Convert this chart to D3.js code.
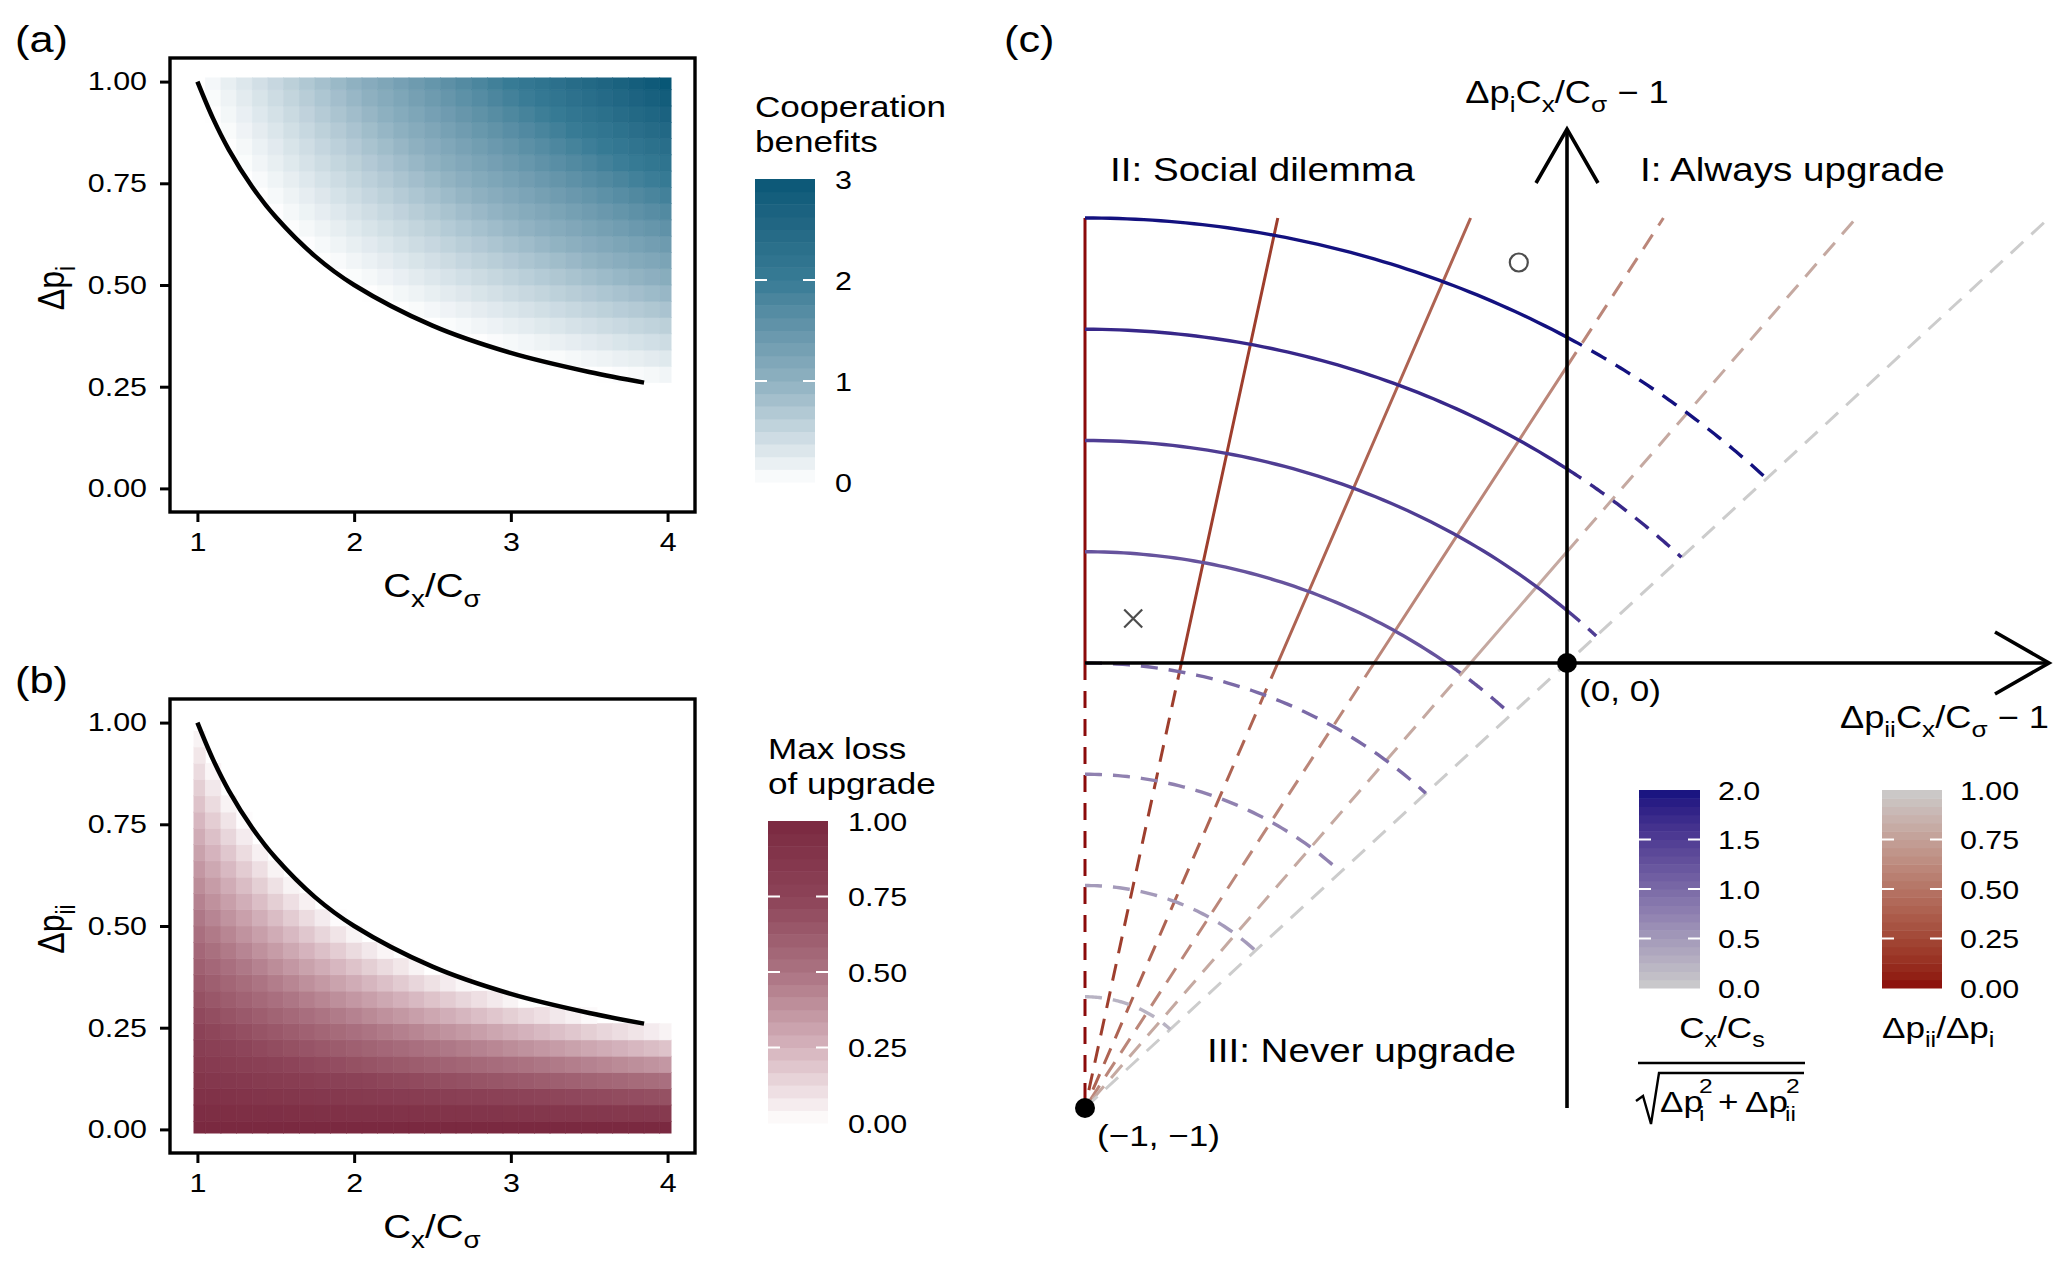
<!DOCTYPE html>
<html>
<head>
<meta charset="utf-8">
<script src="https://cdn.jsdelivr.net/npm/d3@7"></script>
<style>
  html, body { margin: 0; padding: 0; background: #fff; overflow: hidden; }
  text { font-family: 'Liberation Sans', Arial, Helvetica, sans-serif; white-space: pre; }
</style>
</head>
<body>
<svg id="chart" width="2067" height="1268"></svg>
<script>
// Heat map grid (columns: Cx/Cσ, rows: Δp)
const ratioGrid = [1.0, 1.1, 1.2, 1.3, 1.4, 1.5, 1.6, 1.7, 1.8, 1.9, 2.0, 2.1, 2.2, 2.3, 2.4, 2.5,
                   2.6, 2.7, 2.8, 2.9, 3.0, 3.1, 3.2, 3.3, 3.4, 3.5, 3.6, 3.7, 3.8, 3.9, 4.0];
const dpGrid = [0, 0.04, 0.08, 0.12, 0.16, 0.2, 0.24, 0.28, 0.32, 0.36, 0.4, 0.44, 0.48,
                0.52, 0.56, 0.6, 0.64, 0.68, 0.72, 0.76, 0.8, 0.84, 0.88, 0.92, 0.96, 1.0];

// Tile values: positive = cooperation benefit (a),
// negative = loss of upgrade (b)
const netPayoff = [
  [-1,-1,-1,-1,-1,-1,-1,-1,-1,-1,-1,-1,-1,-1,-1,-1,-1,-1,-1,-1,-1,-1,-1,-1,-1,-1,-1,-1,-1,-1,-1],
  [-0.96,-0.956,-0.952,-0.948,-0.944,-0.94,-0.936,-0.932,-0.928,-0.924,-0.92,-0.916,-0.912,-0.908,-0.904,-0.9,-0.896,-0.892,-0.888,-0.884,-0.88,-0.876,-0.872,-0.868,-0.864,-0.86,-0.856,-0.852,-0.848,-0.844,-0.84],
  [-0.92,-0.912,-0.904,-0.896,-0.888,-0.88,-0.872,-0.864,-0.856,-0.848,-0.84,-0.832,-0.824,-0.816,-0.808,-0.8,-0.792,-0.784,-0.776,-0.768,-0.76,-0.752,-0.744,-0.736,-0.728,-0.72,-0.712,-0.704,-0.696,-0.688,-0.68],
  [-0.88,-0.868,-0.856,-0.844,-0.832,-0.82,-0.808,-0.796,-0.784,-0.772,-0.76,-0.748,-0.736,-0.724,-0.712,-0.7,-0.688,-0.676,-0.664,-0.652,-0.64,-0.628,-0.616,-0.604,-0.592,-0.58,-0.568,-0.556,-0.544,-0.532,-0.52],
  [-0.84,-0.824,-0.808,-0.792,-0.776,-0.76,-0.744,-0.728,-0.712,-0.696,-0.68,-0.664,-0.648,-0.632,-0.616,-0.6,-0.584,-0.568,-0.552,-0.536,-0.52,-0.504,-0.488,-0.472,-0.456,-0.44,-0.424,-0.408,-0.392,-0.376,-0.36],
  [-0.8,-0.78,-0.76,-0.74,-0.72,-0.7,-0.68,-0.66,-0.64,-0.62,-0.6,-0.58,-0.56,-0.54,-0.52,-0.5,-0.48,-0.46,-0.44,-0.42,-0.4,-0.38,-0.36,-0.34,-0.32,-0.3,-0.28,-0.26,-0.24,-0.22,-0.2],
  [-0.76,-0.736,-0.712,-0.688,-0.664,-0.64,-0.616,-0.592,-0.568,-0.544,-0.52,-0.496,-0.472,-0.448,-0.424,-0.4,-0.376,-0.352,-0.328,-0.304,-0.28,-0.256,-0.232,-0.208,-0.184,-0.16,-0.136,-0.112,-0.088,-0.064,-0.04],
  [-0.72,-0.692,-0.664,-0.636,-0.608,-0.58,-0.552,-0.524,-0.496,-0.468,-0.44,-0.412,-0.384,-0.356,-0.328,-0.3,-0.272,-0.244,-0.216,-0.188,-0.16,-0.132,-0.104,-0.076,-0.048,-0.02,0.008,0.036,0.064,0.092,0.12],
  [-0.68,-0.648,-0.616,-0.584,-0.552,-0.52,-0.488,-0.456,-0.424,-0.392,-0.36,-0.328,-0.296,-0.264,-0.232,-0.2,-0.168,-0.136,-0.104,-0.072,-0.04,-0.008,0.024,0.056,0.088,0.12,0.152,0.184,0.216,0.248,0.28],
  [-0.64,-0.604,-0.568,-0.532,-0.496,-0.46,-0.424,-0.388,-0.352,-0.316,-0.28,-0.244,-0.208,-0.172,-0.136,-0.1,-0.064,-0.028,0.008,0.044,0.08,0.116,0.152,0.188,0.224,0.26,0.296,0.332,0.368,0.404,0.44],
  [-0.6,-0.56,-0.52,-0.48,-0.44,-0.4,-0.36,-0.32,-0.28,-0.24,-0.2,-0.16,-0.12,-0.08,-0.04,0,0.04,0.08,0.12,0.16,0.2,0.24,0.28,0.32,0.36,0.4,0.44,0.48,0.52,0.56,0.6],
  [-0.56,-0.516,-0.472,-0.428,-0.384,-0.34,-0.296,-0.252,-0.208,-0.164,-0.12,-0.076,-0.032,0.012,0.056,0.1,0.144,0.188,0.232,0.276,0.32,0.364,0.408,0.452,0.496,0.54,0.584,0.628,0.672,0.716,0.76],
  [-0.52,-0.472,-0.424,-0.376,-0.328,-0.28,-0.232,-0.184,-0.136,-0.088,-0.04,0.008,0.056,0.104,0.152,0.2,0.248,0.296,0.344,0.392,0.44,0.488,0.536,0.584,0.632,0.68,0.728,0.776,0.824,0.872,0.92],
  [-0.48,-0.428,-0.376,-0.324,-0.272,-0.22,-0.168,-0.116,-0.064,-0.012,0.04,0.092,0.144,0.196,0.248,0.3,0.352,0.404,0.456,0.508,0.56,0.612,0.664,0.716,0.768,0.82,0.872,0.924,0.976,1.028,1.08],
  [-0.44,-0.384,-0.328,-0.272,-0.216,-0.16,-0.104,-0.048,0.008,0.064,0.12,0.176,0.232,0.288,0.344,0.4,0.456,0.512,0.568,0.624,0.68,0.736,0.792,0.848,0.904,0.96,1.016,1.072,1.128,1.184,1.24],
  [-0.4,-0.34,-0.28,-0.22,-0.16,-0.1,-0.04,0.02,0.08,0.14,0.2,0.26,0.32,0.38,0.44,0.5,0.56,0.62,0.68,0.74,0.8,0.86,0.92,0.98,1.04,1.1,1.16,1.22,1.28,1.34,1.4],
  [-0.36,-0.296,-0.232,-0.168,-0.104,-0.04,0.024,0.088,0.152,0.216,0.28,0.344,0.408,0.472,0.536,0.6,0.664,0.728,0.792,0.856,0.92,0.984,1.048,1.112,1.176,1.24,1.304,1.368,1.432,1.496,1.56],
  [-0.32,-0.252,-0.184,-0.116,-0.048,0.02,0.088,0.156,0.224,0.292,0.36,0.428,0.496,0.564,0.632,0.7,0.768,0.836,0.904,0.972,1.04,1.108,1.176,1.244,1.312,1.38,1.448,1.516,1.584,1.652,1.72],
  [-0.28,-0.208,-0.136,-0.064,0.008,0.08,0.152,0.224,0.296,0.368,0.44,0.512,0.584,0.656,0.728,0.8,0.872,0.944,1.016,1.088,1.16,1.232,1.304,1.376,1.448,1.52,1.592,1.664,1.736,1.808,1.88],
  [-0.24,-0.164,-0.088,-0.012,0.064,0.14,0.216,0.292,0.368,0.444,0.52,0.596,0.672,0.748,0.824,0.9,0.976,1.052,1.128,1.204,1.28,1.356,1.432,1.508,1.584,1.66,1.736,1.812,1.888,1.964,2.04],
  [-0.2,-0.12,-0.04,0.04,0.12,0.2,0.28,0.36,0.44,0.52,0.6,0.68,0.76,0.84,0.92,1,1.08,1.16,1.24,1.32,1.4,1.48,1.56,1.64,1.72,1.8,1.88,1.96,2.04,2.12,2.2],
  [-0.16,-0.076,0.008,0.092,0.176,0.26,0.344,0.428,0.512,0.596,0.68,0.764,0.848,0.932,1.016,1.1,1.184,1.268,1.352,1.436,1.52,1.604,1.688,1.772,1.856,1.94,2.024,2.108,2.192,2.276,2.36],
  [-0.12,-0.032,0.056,0.144,0.232,0.32,0.408,0.496,0.584,0.672,0.76,0.848,0.936,1.024,1.112,1.2,1.288,1.376,1.464,1.552,1.64,1.728,1.816,1.904,1.992,2.08,2.168,2.256,2.344,2.432,2.52],
  [-0.08,0.012,0.104,0.196,0.288,0.38,0.472,0.564,0.656,0.748,0.84,0.932,1.024,1.116,1.208,1.3,1.392,1.484,1.576,1.668,1.76,1.852,1.944,2.036,2.128,2.22,2.312,2.404,2.496,2.588,2.68],
  [-0.04,0.056,0.152,0.248,0.344,0.44,0.536,0.632,0.728,0.824,0.92,1.016,1.112,1.208,1.304,1.4,1.496,1.592,1.688,1.784,1.88,1.976,2.072,2.168,2.264,2.36,2.456,2.552,2.648,2.744,2.84],
  [0,0.1,0.2,0.3,0.4,0.5,0.6,0.7,0.8,0.9,1,1.1,1.2,1.3,1.4,1.5,1.6,1.7,1.8,1.9,2,2.1,2.2,2.3,2.4,2.5,2.6,2.7,2.8,2.9,3]
];

// Black boundary curve in (a) and (b)
const boundaryRatio = [1, 1.1, 1.2, 1.35, 1.5, 1.75, 2, 2.5, 3, 3.5, 3.85];
const boundaryDp = [1, 0.909, 0.833, 0.741, 0.667, 0.571, 0.5, 0.4, 0.333, 0.286, 0.26];

const ratioTicks = [1, 2, 3, 4];
const dpTicks = [0, 0.25, 0.5, 0.75, 1];
const benefitTicks = [0, 1, 2, 3];
const lossTicks = [0, 0.25, 0.5, 0.75, 1];

// colour stops
const benefitStops = [0, 1, 2, 3];
const benefitColors = ["#ffffff", "#8fb1c1", "#377b95", "#085776"];
const lossStops = [0, 0.25, 0.5, 0.75, 1];
const lossColors = ["#ffffff", "#d5b4bd", "#ab7382", "#8c4358", "#7a2940"];

// Panel (c)
const arcRadii = [0.25, 0.5, 0.75, 1, 1.25, 1.5, 1.75, 2];
const rayRatios = [0, 0.2, 0.4, 0.6, 0.8, 1];
const radiusTicks = [0, 0.5, 1, 1.5, 2];
const rayTicks = [0, 0.25, 0.5, 0.75, 1];
const markers = [{x: -0.1, y: 0.9, shape: "circle"}, {x: -0.9, y: 0.1, shape: "cross"}];
const keyPoints = [{x: 0, y: 0, label: "(0, 0)"}, {x: -1, y: -1, label: "(−1, −1)"}];

const SX = 1.17;   // text in the reference is drawn wider than Arial
const svg = d3.select("#chart");

// text with sub/superscripts, stretched horizontally
function richText(parent, x, y, parts, size, anchor = "start", rotate = 0) {
  const g = parent.append("g")
    .attr("transform", `translate(${x},${y}) scale(${SX},1) rotate(${rotate})`);
  const t = g.append("text").attr("font-size", size).attr("text-anchor", anchor).attr("fill", "#000");
  let shift = 0;
  parts.forEach(p => {
    const str = typeof p === "string" ? p : p[0];
    const kind = typeof p === "string" ? "" : p[1];
    const target = kind === "sub" ? size * 0.3 : kind === "sup" ? -size * 0.42 : 0;
    const ts = t.append("tspan").text(str);
    if (target - shift !== 0) ts.attr("dy", target - shift);
    if (kind) ts.attr("font-size", size * 0.72);
    shift = target;
  });
  return g;
}

function colorBar(parent, opts) {
  const s = d3.scaleLinear().domain(opts.domain).range([opts.bottom, opts.top]);
  const n = 24, [d0, d1] = opts.domain;
  const bins = d3.range(n).map(i => [d0 + (d1 - d0) * i / n, d0 + (d1 - d0) * (i + 1) / n]);
  parent.append("g").selectAll("rect").data(bins).join("rect")
    .attr("x", opts.x).attr("width", opts.w)
    .attr("y", d => s(d[1])).attr("height", d => s(d[0]) - s(d[1]) + 0.5)
    .attr("fill", d => opts.color((d[0] + d[1]) / 2));
  const inner = opts.ticks.filter(t => t > d0 && t < d1);
  parent.append("g").selectAll("path").data(inner).join("path")
    .attr("d", t => `M${opts.x},${s(t)}h12M${opts.x + opts.w - 12},${s(t)}h12`)
    .attr("stroke", "#fff").attr("stroke-width", 2);
  opts.ticks.forEach(t => richText(parent, opts.labelX, s(t) + 9.5, [opts.fmt(t)], 26));
}

// ---------- panels (a) and (b) ----------
const benefitColor = d3.scaleLinear().domain(benefitStops).range(benefitColors).interpolate(d3.interpolateLab);
const lossColor = d3.scaleLinear().domain(lossStops).range(lossColors).interpolate(d3.interpolateLab);

const heatPanels = [
  {id: "a", label: "(a)", dy: 0, yTitle: ["Δp", ["i", "sub"]], legendTitle: ["Cooperation", "benefits"],
   pick: v => v >= 0 ? v : null, color: benefitColor, domain: [0, 3], ticks: benefitTicks, fmt: d3.format("d"),
   legendX: 755, labelX: 835, barTop: 179, barBottom: 482, titleY: [117, 152]},
  {id: "b", label: "(b)", dy: 641, yTitle: ["Δp", ["ii", "sub"]], legendTitle: ["Max loss", "of upgrade"],
   pick: v => v <= 0 ? -v : null, color: lossColor, domain: [0, 1], ticks: lossTicks, fmt: d3.format(".2f"),
   legendX: 768, labelX: 848, barTop: 821, barBottom: 1123, titleY: [759, 794]}
];

heatPanels.forEach(p => {
  const g = svg.append("g");
  const x = d3.scaleLinear().domain([0.825, 4.175]).range([170, 695]);
  const y = d3.scaleLinear().domain([-0.058, 1.058]).range([512 + p.dy, 58 + p.dy]);

  svg.append("defs").append("clipPath").attr("id", "clip-" + p.id).append("rect")
    .attr("x", x(0.975)).attr("y", y(1.01))
    .attr("width", x(4.025) - x(0.975)).attr("height", y(-0.01) - y(1.01));

  const cells = [];
  dpGrid.forEach((dp, i) => ratioGrid.forEach((r, j) => {
    const v = p.pick(netPayoff[i][j]);
    if (v !== null) cells.push({r, dp, v});
  }));
  g.append("g").attr("clip-path", `url(#clip-${p.id})`)
    .selectAll("rect").data(cells).join("rect")
    .attr("x", d => x(d.r - 0.05)).attr("width", d => x(d.r + 0.05) - x(d.r - 0.05))
    .attr("y", d => y(d.dp + 0.02)).attr("height", d => y(d.dp - 0.02) - y(d.dp + 0.02))
    .attr("fill", d => p.color(d.v)).attr("stroke", d => p.color(d.v)).attr("stroke-width", 0.6);

  const line = d3.line().x(d => x(d[0])).y(d => y(d[1])).curve(d3.curveCatmullRom);
  g.append("path").datum(d3.zip(boundaryRatio, boundaryDp))
    .attr("d", line).attr("fill", "none").attr("stroke", "#000").attr("stroke-width", 4.5);

  g.append("rect").attr("x", 170).attr("y", 58 + p.dy).attr("width", 525).attr("height", 454)
    .attr("fill", "none").attr("stroke", "#000").attr("stroke-width", 3.4);

  const yAxis = g.append("g").attr("transform", "translate(170,0)")
    .call(d3.axisLeft(y).tickValues(dpTicks).tickFormat(d3.format(".2f")).tickSize(10).tickPadding(13));
  const xAxis = g.append("g").attr("transform", `translate(0,${512 + p.dy})`)
    .call(d3.axisBottom(x).tickValues(ratioTicks).tickFormat(d3.format("d")).tickSize(10).tickPadding(11));
  [yAxis, xAxis].forEach(a => {
    a.select(".domain").remove();
    a.attr("font-size", 26);
    a.selectAll(".tick line").attr("stroke", "#000").attr("stroke-width", 3);
    a.selectAll(".tick text").attr("fill", "#000").attr("transform", `scale(${SX},1)`);
  });
  yAxis.selectAll(".tick text").attr("x", -23 / SX);

  richText(g, 15, 52 + p.dy, [p.label], 37);
  richText(g, 432, 597 + p.dy, ["C", ["x", "sub"], "/C", ["σ", "sub"]], 33, "middle");
  richText(g, 64, 288 + p.dy, p.yTitle, 32, "middle", -90);

  richText(g, p.legendX, p.titleY[0], [p.legendTitle[0]], 30);
  richText(g, p.legendX, p.titleY[1], [p.legendTitle[1]], 30);
  colorBar(g, {x: p.legendX, w: 60, top: p.barTop, bottom: p.barBottom, domain: p.domain,
               color: p.color, ticks: p.ticks, fmt: p.fmt, labelX: p.labelX});
});

// ---------- panel (c) ----------
const gc = svg.append("g");
const xC = d3.scaleLinear().domain([-1, 1]).range([1085, 2049]);
const yC = d3.scaleLinear().domain([-1, 1]).range([1108, 218]);
const radiusColor = d3.scaleLinear().domain([0, 2]).range(["#cccccc", "#13117f"]).interpolate(d3.interpolateLab);
const rayColor = d3.scaleLinear().domain([0, 1]).range(["#8b0a0a", "#cccccc"]).interpolate(d3.interpolateLab);
const lineC = d3.line().x(d => xC(d[0])).y(d => yC(d[1]));
const DASH = "17,11";

const rayPt = (k, t) => [-1 + k * t, -1 + t];
const arcPt = (R, a) => [-1 + R * Math.cos(a), -1 + R * Math.sin(a)];
const sample = (f, a0, a1, n) => d3.range(n + 1).map(i => f(a0 + (a1 - a0) * i / n));

const solid = [], dashed = [];
rayRatios.forEach(k => {
  const tEnd = k > 0 ? Math.min(2, 1 / k) : 2;
  const col = rayColor(k), w = 3;
  if (tEnd > 1) {
    solid.push({pts: sample(t => rayPt(k, t), 1, tEnd, 2), col, w});
    dashed.push({pts: sample(t => rayPt(k, t), 1, 0, 2), col, w});
    if (tEnd < 2) dashed.push({pts: sample(t => rayPt(k, t), tEnd, 2, 2), col, w});
  } else {
    dashed.push({pts: sample(t => rayPt(k, t), 0, 2, 2), col, w});
  }
});
const arcSolid = [], arcDashed = [];
arcRadii.forEach(R => {
  const cut = R > 1 ? Math.max(Math.asin(1 / R), Math.acos(1 / R)) : Math.PI / 2;
  const col = radiusColor(R), w = 3.4;
  if (cut < Math.PI / 2) arcSolid.push({pts: sample(a => arcPt(R, a), Math.PI / 2, cut, 60), col, w});
  arcDashed.push({pts: sample(a => arcPt(R, a), cut, Math.PI / 4, 60), col, w});
});

function drawSet(set, dash) {
  gc.append("g").selectAll("path").data(set).join("path")
    .attr("d", d => lineC(d.pts)).attr("fill", "none")
    .attr("stroke", d => d.col).attr("stroke-width", d => d.w)
    .attr("stroke-dasharray", dash);
}
drawSet(dashed, DASH);
drawSet(arcDashed, DASH);
drawSet(solid, null);
drawSet(arcSolid, null);

// axes with open arrow heads
const ax = gc.append("g").attr("fill", "none").attr("stroke", "#000").attr("stroke-width", 3.6);
ax.append("path").attr("d", lineC([[0, -1], [0, 1.2]]));
ax.append("path").attr("d", lineC([[-1, 0], [1, 0]]));
const yTip = [xC(0), yC(1.2)], xTip = [xC(1), yC(0)];
ax.append("path").attr("d", `M${yTip[0] - 31},${yTip[1] + 54}L${yTip[0]},${yTip[1]}L${yTip[0] + 31},${yTip[1] + 54}`);
ax.append("path").attr("d", `M${xTip[0] - 54},${xTip[1] - 31}L${xTip[0]},${xTip[1]}L${xTip[0] - 54},${xTip[1] + 31}`);

// example points
markers.forEach(m => {
  const px = xC(m.x), py = yC(m.y);
  if (m.shape === "circle") {
    gc.append("circle").attr("cx", px).attr("cy", py).attr("r", 9)
      .attr("fill", "none").attr("stroke", "#4d4d4d").attr("stroke-width", 2.2);
  } else {
    gc.append("path").attr("d", `M${px - 9},${py - 9}L${px + 9},${py + 9}M${px - 9},${py + 9}L${px + 9},${py - 9}`)
      .attr("stroke", "#4d4d4d").attr("stroke-width", 2.2);
  }
});
gc.selectAll(".key").data(keyPoints).join("circle").attr("class", "key")
  .attr("cx", d => xC(d.x)).attr("cy", d => yC(d.y)).attr("r", 10).attr("fill", "#000");
keyPoints.forEach(d => richText(gc, xC(d.x) + 12, yC(d.y) + 38, [d.label], 30));

richText(gc, 1004, 52, ["(c)"], 37);
richText(gc, 1567, 103, ["Δp", ["i", "sub"], "C", ["x", "sub"], "/C", ["σ", "sub"], " − 1"], 31, "middle");
richText(gc, 2049, 728, ["Δp", ["ii", "sub"], "C", ["x", "sub"], "/C", ["σ", "sub"], " − 1"], 31, "end");
richText(gc, 1110, 181, ["II: Social dilemma"], 33);
richText(gc, 1640, 181, ["I: Always upgrade"], 33);
richText(gc, 1207, 1062, ["III: Never upgrade"], 33);

// legends of (c)
colorBar(gc, {x: 1639, w: 61, top: 790, bottom: 988, domain: [0, 2], color: radiusColor,
              ticks: radiusTicks, fmt: d3.format(".1f"), labelX: 1718});
colorBar(gc, {x: 1882, w: 60, top: 790, bottom: 988, domain: [0, 1], color: rayColor,
              ticks: rayTicks, fmt: d3.format(".2f"), labelX: 1960});

richText(gc, 1722, 1038, ["C", ["x", "sub"], "/C", ["s", "sub"]], 30, "middle");
gc.append("path").attr("d", "M1638,1063H1805").attr("stroke", "#000").attr("stroke-width", 2.6);
gc.append("path").attr("d", "M1636,1101L1643,1096L1651,1124L1659,1073H1804")
  .attr("fill", "none").attr("stroke", "#000").attr("stroke-width", 2.4);
richText(gc, 1660, 1112, ["Δp"], 30);
richText(gc, 1699, 1121, ["i"], 21);
richText(gc, 1699, 1093, ["2"], 21);
richText(gc, 1718, 1112, ["+"], 30);
richText(gc, 1745, 1112, ["Δp"], 30);
richText(gc, 1785, 1121, ["ii"], 21);
richText(gc, 1786, 1093, ["2"], 21);
richText(gc, 1882, 1038, ["Δp", ["ii", "sub"], "/Δp", ["i", "sub"]], 30);
</script>
</body>
</html>
